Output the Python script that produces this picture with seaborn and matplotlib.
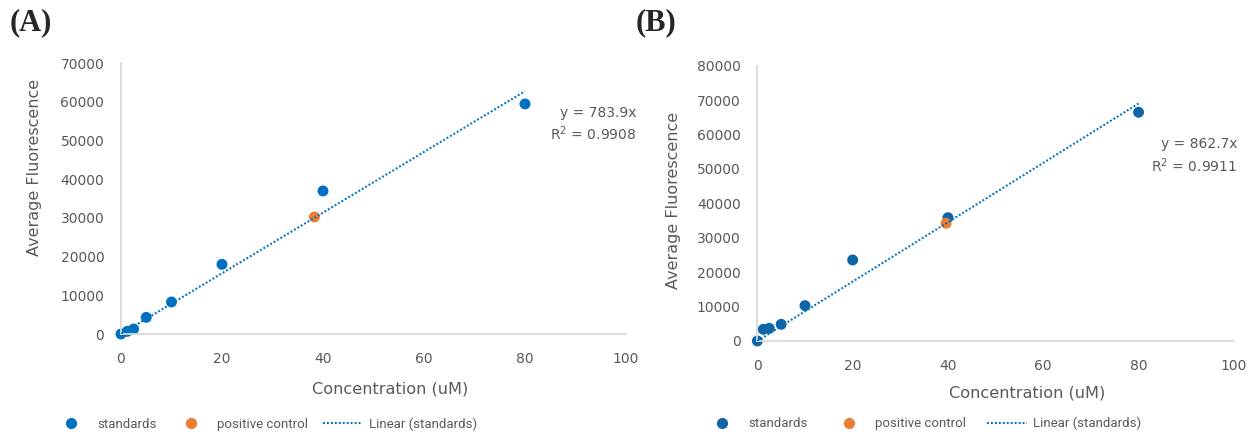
import matplotlib
matplotlib.use("Agg")
import matplotlib.pyplot as plt
import seaborn as sns
import pandas as pd
from matplotlib.lines import Line2D

# ---- data ----
conc_std = [0, 1.25, 2.5, 5, 10, 20, 40, 80]
fluor_std_A = [0, 690, 1290, 4300, 8270, 18000, 36950, 59430]
fluor_std_B = [0, 3390, 3680, 4840, 10270, 23540, 35840, 66470]
conc_pos_A = [38.3]
fluor_pos_A = [30230]
conc_pos_B = [39.6]
fluor_pos_B = [34200]
slope_A = 783.9
slope_B = 862.7
r2_A = 0.9908
r2_B = 0.9911
yticks_A = [0, 10000, 20000, 30000, 40000, 50000, 60000, 70000]
yticks_B = [0, 10000, 20000, 30000, 40000, 50000, 60000, 70000, 80000]
xticks = [0, 20, 40, 60, 80, 100]
legend_labels = ["standards", "positive control", "Linear (standards)"]

sns.set_style("white")
plt.rcParams["font.family"] = ["DejaVu Sans"]

GRAY = "#595959"
SPINE = "#D9D9D9"
ORANGE = "#ED7D31"
LINEBLUE = "#0070C0"

fig = plt.figure(figsize=(12.51, 4.33), dpi=100)
axA = fig.add_axes([0.0967, 0.2286, 0.4037, 0.6259])
axB = fig.add_axes([0.6054, 0.2125, 0.3809, 0.6358])


def draw(ax, fstd, cpos, fpos, slope, r2, yticks, stdcolor, leg_xy, colsp,
         eq_xy, xlab_xy, ylab_xy):
    df_std = pd.DataFrame({"x": conc_std, "y": fstd})
    df_pos = pd.DataFrame({"x": cpos, "y": fpos})
    xs = [min(conc_std), max(conc_std)]
    df_fit = pd.DataFrame({"x": xs, "y": [slope * v for v in xs]})
    sns.lineplot(data=df_fit, x="x", y="y", ax=ax, color=LINEBLUE, lw=1.5,
                 linestyle=(0, (0.9, 1.0)), zorder=3)
    sns.scatterplot(data=df_std, x="x", y="y", ax=ax, color=stdcolor, s=62,
                    edgecolor="none", zorder=2, clip_on=False)
    sns.scatterplot(data=df_pos, x="x", y="y", ax=ax, color=ORANGE, s=62,
                    edgecolor="none", zorder=2, clip_on=False)
    ax.set_xlim(0, 100)
    ax.set_ylim(0, yticks[-1])
    ax.set_xticks(xticks)
    ax.set_yticks(yticks)
    ax.tick_params(axis="both", length=0, labelsize=10, labelcolor=GRAY)
    ax.tick_params(axis="x", pad=13)
    ax.tick_params(axis="y", pad=12)
    for s in ["top", "right"]:
        ax.spines[s].set_visible(False)
    for s in ["left", "bottom"]:
        ax.spines[s].set_color(SPINE)
        ax.spines[s].set_linewidth(1.3)
    ax.set_xlabel("Concentration (uM)", fontsize=11.6, color=GRAY, va="center")
    ax.set_ylabel("Average Fluorescence", fontsize=11.5, color=GRAY,
                  va="center", ha="center")
    ax.xaxis.set_label_coords(*xlab_xy)
    ax.yaxis.set_label_coords(*ylab_xy)
    ax.text(eq_xy[0], eq_xy[1], f"y = {slope}x\nR$^2$ = {r2}", transform=ax.transAxes,
            ha="right", va="top", fontsize=10, color=GRAY, linespacing=1.3)
    handles = [
        Line2D([], [], marker="o", ls="none", color=stdcolor, markersize=7),
        Line2D([], [], marker="o", ls="none", color=ORANGE, markersize=7),
        Line2D([], [], color=LINEBLUE, lw=1.5, ls=(0, (0.9, 1.0))),
    ]
    ax.legend(handles, legend_labels, loc="center", bbox_to_anchor=leg_xy, ncol=3,
              frameon=False, labelcolor=GRAY, handlelength=3.0,
              columnspacing=colsp, handletextpad=0.5,
              prop={"family": "Roboto", "size": 9.5})


draw(axA, fluor_std_A, conc_pos_A, fluor_pos_A, slope_A, r2_A, yticks_A, "#0070C0",
     (0.283, -0.332), 1.1, (1.02, 0.842), (0.533, -0.203), (-0.172, 0.616))
draw(axB, fluor_std_B, conc_pos_B, fluor_pos_B, slope_B, r2_B, yticks_B, "#0E65A8",
     (0.345, -0.30), 1.6, (1.007, 0.74), (0.566, -0.189), (-0.177, 0.509))

fig.text(0.008, 0.948, "(A)", fontsize=22, fontweight="bold", family="Liberation Serif",
         va="center", ha="left")
fig.text(0.508, 0.948, "(B)", fontsize=22, fontweight="bold", family="Liberation Serif",
         va="center", ha="left")

fig.savefig("out.png", dpi=100)
